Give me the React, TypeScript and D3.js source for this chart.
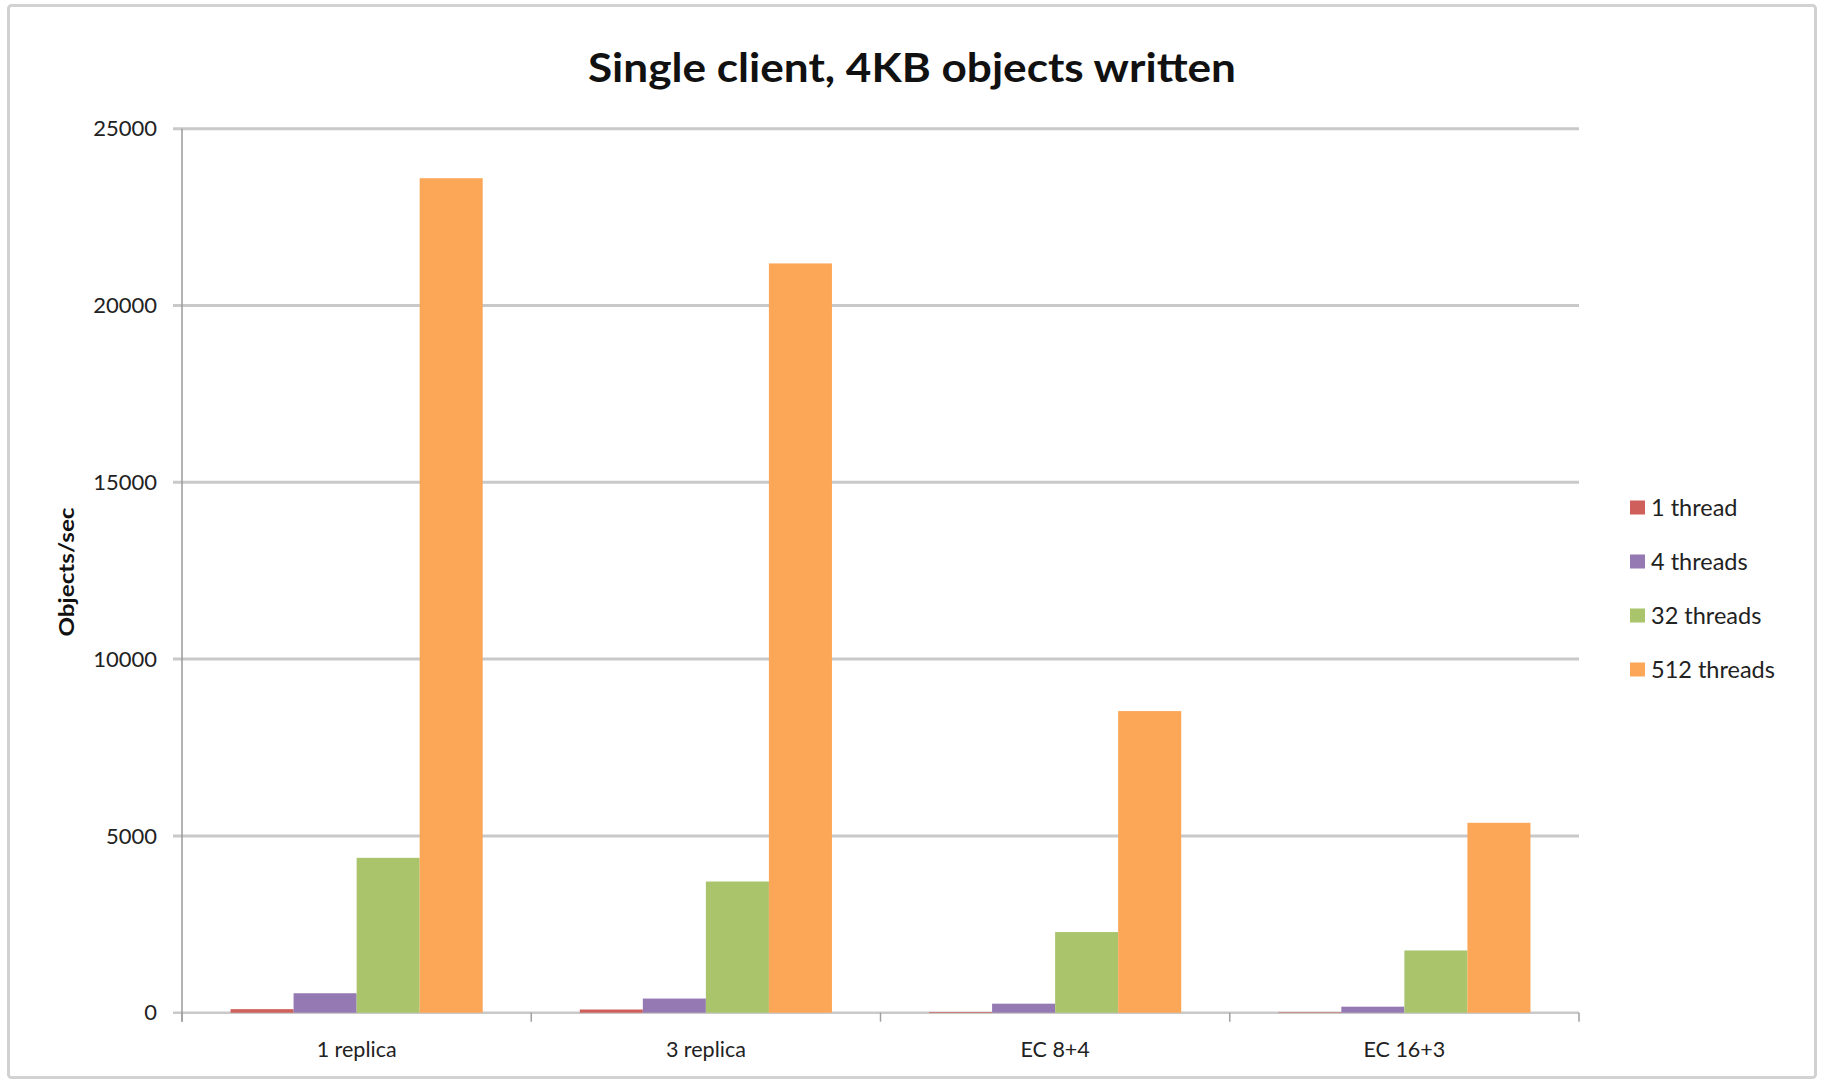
import React from "react";
import * as d3 from "d3";

// Write throughput per storage layout, one series per client thread count
const categories = ["1 replica", "3 replica", "EC 8+4", "EC 16+3"];
const seriesNames = ["1 thread", "4 threads", "32 threads", "512 threads"];
const oneThread = [100, 90, 20, 15];
const fourThreads = [550, 400, 255, 170];
const thirtyTwoThreads = [4380, 3710, 2280, 1760];
const fiveTwelveThreads = [23600, 21190, 8530, 5370];
const yTicks = [0, 5000, 10000, 15000, 20000, 25000];
const seriesColors = ["#cf5f5a", "#9479b2", "#aac46c", "#fca758"];

const seriesValues = [oneThread, fourThreads, thirtyTwoThreads, fiveTwelveThreads];

const W = 1825;
const H = 1081;
const FONT = "Lato, 'Open Sans', sans-serif";

export default function App() {
  const plotLeft = 182;
  const plotRight = 1579;
  const plotTop = 128.7;
  const plotBottom = 1012.7;

  const y = d3.scaleLinear().domain([0, 25000]).range([plotBottom, plotTop]);
  const x0 = d3.scaleBand<string>().domain(categories).range([plotLeft, plotRight]).padding(0);
  const x1 = d3
    .scaleBand<string>()
    .domain(seriesNames)
    .range([0, x0.bandwidth()])
    .paddingInner(0)
    .paddingOuter(0.77);

  const catEdges = categories.map((c) => x0(c) as number).concat([plotRight]);

  return (
    <svg
      width={W}
      height={H}
      style={{ position: "absolute", left: 0, top: 0, display: "block", background: "#fff" }}
    >
      <rect x={0} y={0} width={W} height={H} fill="#fff" />
      {/* chart frame */}
      <rect
        x={8.5}
        y={5.5}
        width={1807}
        height={1072}
        rx={3}
        fill="#fff"
        stroke="#d2d2d2"
        strokeWidth={3}
      />

      {/* title */}
      <text
        x={912}
        y={81.5}
        textAnchor="middle"
        fontFamily={FONT}
        fontWeight={700}
        fontSize={41}
        fill="#111"
        textLength={648}
        lengthAdjust="spacingAndGlyphs"
      >
        Single client, 4KB objects written
      </text>

      {/* horizontal gridlines with tick stubs */}
      {yTicks.map((t) => (
        <g key={t}>
          <line
            x1={173}
            x2={plotRight}
            y1={y(t)}
            y2={y(t)}
            stroke="#c9c9c9"
            strokeWidth={t === 0 ? 2.5 : 3}
          />
          <text
            x={157}
            y={y(t)}
            dy="0.35em"
            textAnchor="end"
            fontFamily={FONT}
            fontSize={22}
            fill="#222"
          >
            {t}
          </text>
        </g>
      ))}

      {/* value axis line */}
      <line x1={plotLeft} x2={plotLeft} y1={plotTop} y2={plotBottom + 9} stroke="#9a9a9a" strokeWidth={1.5} />

      {/* category ticks */}
      {catEdges.map((cx, i) => (
        <line
          key={i}
          x1={cx}
          x2={cx}
          y1={plotBottom}
          y2={plotBottom + 9}
          stroke="#a0a0a0"
          strokeWidth={1.5}
        />
      ))}

      {/* bars */}
      {categories.map((c, ci) => (
        <g key={c} transform={`translate(${x0(c)},0)`}>
          {seriesNames.map((s, si) => {
            const v = seriesValues[si][ci];
            return (
              <rect
                key={s}
                x={x1(s)}
                y={y(v)}
                width={x1.bandwidth()}
                height={plotBottom - y(v)}
                fill={seriesColors[si]}
              />
            );
          })}
        </g>
      ))}

      {/* category labels */}
      {categories.map((c) => (
        <text
          key={c}
          x={(x0(c) as number) + x0.bandwidth() / 2}
          y={1049}
          dy="0.35em"
          textAnchor="middle"
          fontFamily={FONT}
          fontSize={21.5}
          fill="#222"
        >
          {c}
        </text>
      ))}

      {/* value axis title */}
      <text
        transform={`translate(74,572) rotate(-90)`}
        textAnchor="middle"
        fontFamily={FONT}
        fontWeight={700}
        fontSize={20}
        fill="#111"
        textLength={129}
        lengthAdjust="spacingAndGlyphs"
      >
        Objects/sec
      </text>

      {/* legend */}
      {seriesNames.map((s, i) => {
        const cy = 508 + i * 54;
        return (
          <g key={s}>
            <rect x={1630} y={cy - 7.5} width={15} height={14} fill={seriesColors[i]} />
            <text
              x={1651}
              y={cy}
              dy="0.35em"
              fontFamily={FONT}
              fontSize={23.5}
              fill="#222"
            >
              {s}
            </text>
          </g>
        );
      })}
    </svg>
  );
}
